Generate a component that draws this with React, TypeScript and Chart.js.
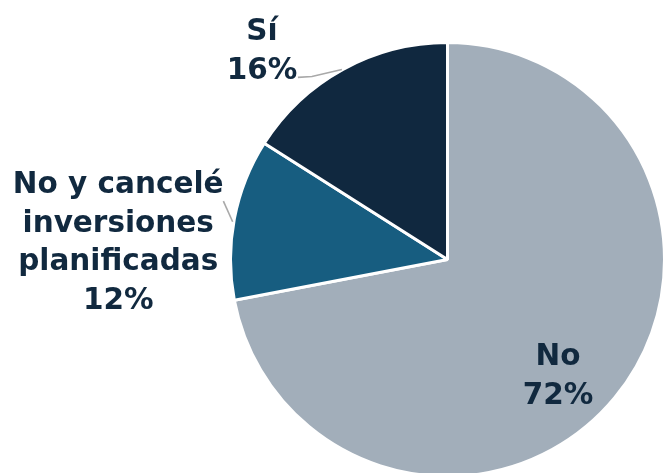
import React, { useEffect, useRef } from "react";
import { Chart, registerables } from "chart.js";

Chart.register(...registerables);

const categories = ["No", "No y cancelé inversiones planificadas", "Sí"];
const values = [72, 12, 16];
const sliceColors = ["#a2aeba", "#175d80", "#10283f"];
const labelLines = [["No"], ["No y cancelé", "inversiones", "planificadas"], ["Sí"]];

// label anchor (in units of radius, relative to pie centre)
const labelAnchors = [
  { x: 0.513, y: 0.49 },
  { x: -1.528, y: -0.309 },
  { x: -0.861, y: -1.019 },
];
const leaderLines: Array<Array<[number, number]>> = [
  [],
  [
    [-1.04, -0.271],
    [-0.997, -0.175],
  ],
  [
    [-0.694, -0.845],
    [-0.629, -0.849],
    [-0.49, -0.882],
  ],
];

const TEXT_COLOR = "#11293f";
const FONT = 'bold 29.5px "DejaVu Sans"';
const LINE_H = 38.7;

const labelPlugin = {
  id: "pieLabels",
  afterDatasetsDraw(chart: any) {
    const meta = chart.getDatasetMeta(0);
    const arc0 = meta.data[0];
    if (!arc0) return;
    const cx = arc0.x;
    const cy = arc0.y;
    const r = arc0.outerRadius - 1.5;
    const ctx = chart.ctx;
    ctx.save();
    ctx.strokeStyle = "#a9a9a9";
    ctx.lineWidth = 1.6;
    leaderLines.forEach((pts) => {
      if (!pts.length) return;
      ctx.beginPath();
      pts.forEach(([px, py], i) => {
        const X = cx + px * r;
        const Y = cy + py * r;
        if (i === 0) ctx.moveTo(X, Y);
        else ctx.lineTo(X, Y);
      });
      ctx.stroke();
    });
    ctx.fillStyle = TEXT_COLOR;
    ctx.font = FONT;
    ctx.textAlign = "center";
    ctx.textBaseline = "alphabetic";
    values.forEach((v, i) => {
      const lines = [...labelLines[i], `${v}%`];
      const a = labelAnchors[i];
      const x = cx + a.x * r;
      const y0 = cy + a.y * r;
      lines.forEach((t, j) => {
        ctx.fillText(t, x, y0 + j * LINE_H);
      });
    });
    ctx.restore();
  },
};

export default function App() {
  const ref = useRef<HTMLCanvasElement | null>(null);
  useEffect(() => {
    if (!ref.current) return;
    const chart = new Chart(ref.current, {
      type: "pie",
      data: {
        labels: categories,
        datasets: [
          {
            data: values,
            backgroundColor: sliceColors,
            borderColor: "#ffffff",
            borderWidth: 3,
          },
        ],
      },
      options: {
        responsive: false,
        animation: false,
        layout: { padding: { left: 229, right: 0, top: 41, bottom: 2 } },
        plugins: {
          legend: { display: false },
          tooltip: { enabled: false },
        },
      },
      plugins: [labelPlugin],
    });
    return () => chart.destroy();
  }, []);
  return (
    <div
      style={{
        position: "fixed",
        left: 0,
        top: 0,
        width: 664,
        height: 473,
        overflow: "hidden",
        background: "#ffffff",
      }}
    >
      <canvas ref={ref} width={666} height={480} style={{ width: 666, height: 480, display: "block" }} />
    </div>
  );
}
